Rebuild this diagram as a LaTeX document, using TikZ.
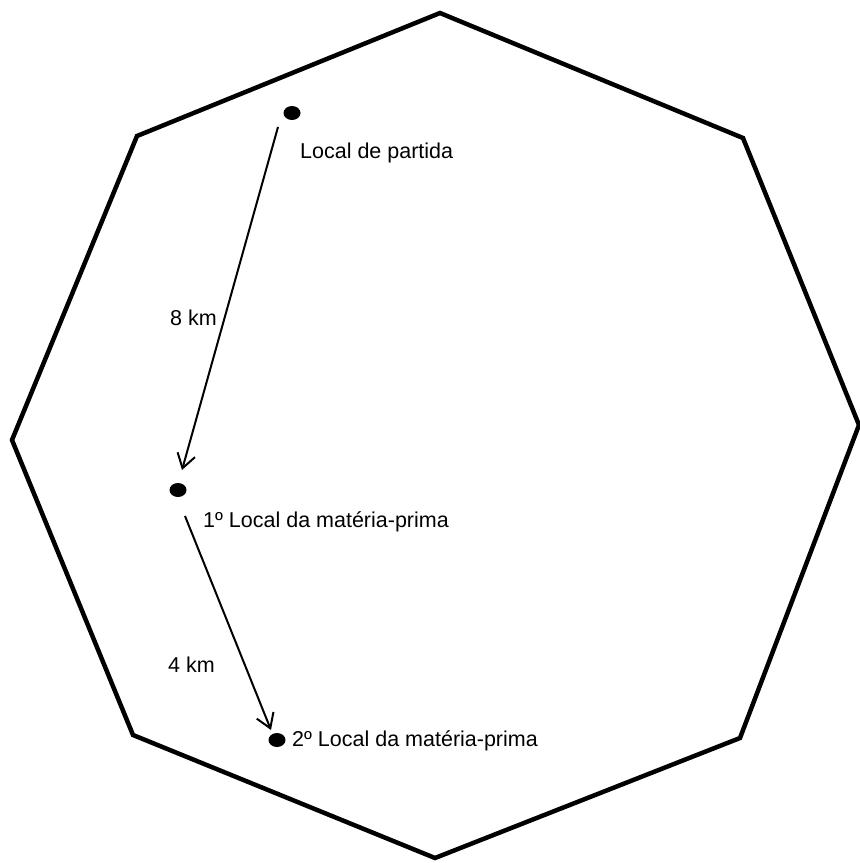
\documentclass[tikz,border=0pt]{standalone}
\usepackage{fontspec}
\setmainfont{Liberation Sans}
\usetikzlibrary{arrows.meta,shapes.geometric}
\begin{document}
\begin{tikzpicture}[x=1pt,y=-1pt,
  edge/.style={line width=4.5pt,line join=miter},
  dotn/.style={fill=black,ellipse,inner sep=0pt,minimum width=17pt,minimum height=14pt},
  lbl/.style={font=\fontsize{21.5}{25}\selectfont,inner sep=0pt},
  arr/.style={line width=2pt,-{Straight Barb[length=14pt,width=18pt,line width=2pt]}}]
\useasboundingbox (0,0) rectangle (860,863);
\draw[edge] (440,13) -- (743,138) -- (859,425) -- (740,738) -- (435,858) -- (133,735) -- (12,440) -- (137,136) -- cycle;
\node[dotn] (d1) at (292,113) {};
\node[dotn] (d2) at (178,490) {};
\node[dotn] (d3) at (277,740) {};
\coordinate (a1s) at (278,127);
\coordinate (a1e) at (182,470);
\coordinate (a2s) at (185,516);
\coordinate (a2e) at (271,730);
\draw[arr] (a1s) -- (a1e);
\draw[arr] (a2s) -- (a2e);
\node[lbl,anchor=west] (t1) at (300,153) {Local de partida};
\node[lbl,anchor=west] (t2) at (170,318) {8 km};
\node[lbl,anchor=west] (t3) at (203,522) {1º Local da matéria-prima};
\node[lbl,anchor=west] (t4) at (168,665) {4 km};
\node[lbl,anchor=west] (t5) at (292,741) {2º Local da matéria-prima};
\end{tikzpicture}
\end{document}
